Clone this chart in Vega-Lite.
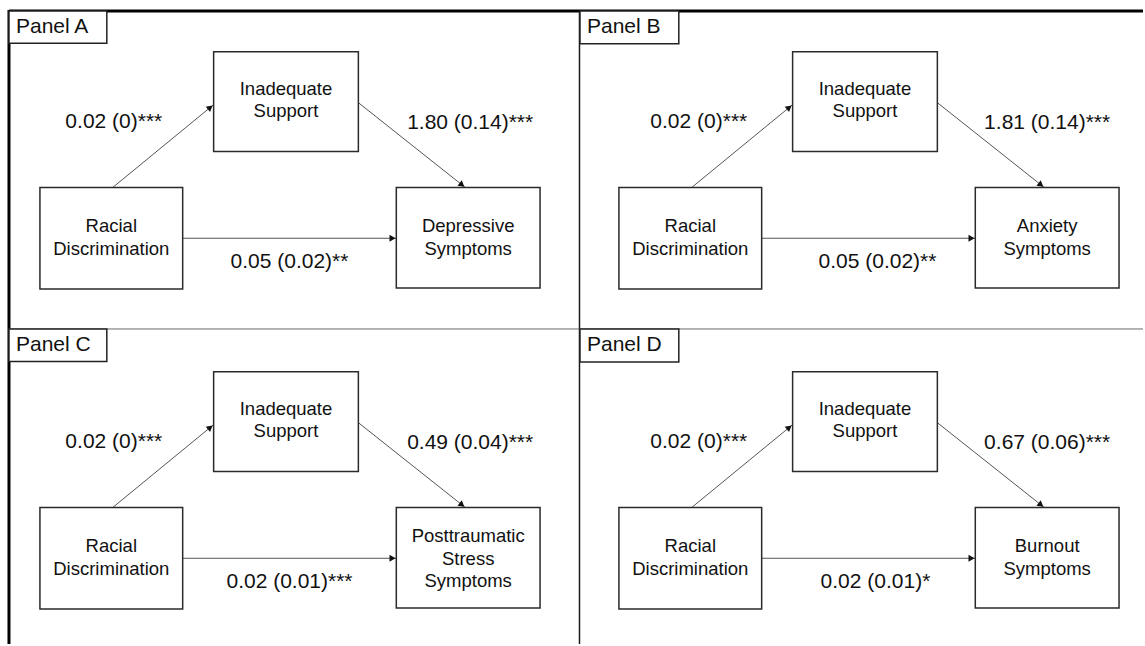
{
  "$schema": "https://vega.github.io/schema/vega-lite/v6.json",
  "width": 1145,
  "height": 646,
  "autosize": {"type": "fit", "contains": "padding"},
  "padding": 0,
  "background": "white",
  "config": {"view": {"stroke": null}, "text": {"font": "Liberation Sans"}},
  "datasets": {
    "frame": [
      {"kind": "outer", "x1": 9, "y1": 11, "x2": 1145, "y2": 11},
      {"kind": "outer", "x1": 9, "y1": 10, "x2": 9, "y2": 646},
      {"kind": "vdiv", "x1": 580.5, "y1": 11, "x2": 580.5, "y2": 646},
      {"kind": "hdiv", "x1": 9, "y1": 330, "x2": 1145, "y2": 330}
    ],
    "panels": [
      {"panel": "Panel A", "x1": 9, "x2": 107, "y1": 11, "y2": 43.5, "tx": 16, "ty": 27.5},
      {"panel": "Panel B", "x1": 581, "x2": 680, "y1": 11, "y2": 44, "tx": 588, "ty": 27.5},
      {"panel": "Panel C", "x1": 9, "x2": 107, "y1": 330, "y2": 362.5, "tx": 16, "ty": 346.5},
      {"panel": "Panel D", "x1": 581, "x2": 680, "y1": 330, "y2": 363, "tx": 588, "ty": 346.5}
    ],
    "nodes": [
      {"panel": "A", "label": "Inadequate\nSupport", "x1": 214, "x2": 359, "y1": 52, "y2": 152, "cx": 286.5, "cy": 89},
      {"panel": "A", "label": "Racial\nDiscrimination", "x1": 40, "x2": 183, "y1": 188, "y2": 290, "cx": 111.5, "cy": 227},
      {"panel": "A", "label": "Depressive\nSymptoms", "x1": 397, "x2": 541, "y1": 188, "y2": 289, "cx": 469, "cy": 227},
      {"panel": "B", "label": "Inadequate\nSupport", "x1": 794, "x2": 939, "y1": 52, "y2": 152, "cx": 866.5, "cy": 89},
      {"panel": "B", "label": "Racial\nDiscrimination", "x1": 620, "x2": 763, "y1": 188, "y2": 290, "cx": 691.5, "cy": 227},
      {"panel": "B", "label": "Anxiety\nSymptoms", "x1": 977, "x2": 1121, "y1": 188, "y2": 289, "cx": 1049, "cy": 227},
      {"panel": "C", "label": "Inadequate\nSupport", "x1": 214, "x2": 359, "y1": 373, "y2": 473, "cx": 286.5, "cy": 410},
      {"panel": "C", "label": "Racial\nDiscrimination", "x1": 40, "x2": 183, "y1": 509, "y2": 611, "cx": 111.5, "cy": 548},
      {"panel": "C", "label": "Posttraumatic\nStress\nSymptoms", "x1": 397, "x2": 541, "y1": 509, "y2": 610, "cx": 469, "cy": 538},
      {"panel": "D", "label": "Inadequate\nSupport", "x1": 794, "x2": 939, "y1": 373, "y2": 473, "cx": 866.5, "cy": 410},
      {"panel": "D", "label": "Racial\nDiscrimination", "x1": 620, "x2": 763, "y1": 509, "y2": 611, "cx": 691.5, "cy": 548},
      {"panel": "D", "label": "Burnout\nSymptoms", "x1": 977, "x2": 1121, "y1": 509, "y2": 610, "cx": 1049, "cy": 548}
    ],
    "edges": [
      {"panel": "A", "path": "a", "x1": 113, "y1": 188, "x2": 214, "y2": 105, "hx": 210.6, "hy": 107.8, "angle": 51},
      {"panel": "A", "path": "b", "x1": 359, "y1": 103, "x2": 466, "y2": 188, "hx": 462.8, "hy": 185.5, "angle": 128},
      {"panel": "A", "path": "c", "x1": 183, "y1": 239, "x2": 397, "y2": 239, "hx": 393.2, "hy": 239, "angle": 90},
      {"panel": "B", "path": "a", "x1": 693, "y1": 188, "x2": 794, "y2": 105, "hx": 790.6, "hy": 107.8, "angle": 51},
      {"panel": "B", "path": "b", "x1": 939, "y1": 103, "x2": 1046, "y2": 188, "hx": 1042.8, "hy": 185.5, "angle": 128},
      {"panel": "B", "path": "c", "x1": 763, "y1": 239, "x2": 977, "y2": 239, "hx": 973.2, "hy": 239, "angle": 90},
      {"panel": "C", "path": "a", "x1": 113, "y1": 509, "x2": 214, "y2": 426, "hx": 210.6, "hy": 428.8, "angle": 51},
      {"panel": "C", "path": "b", "x1": 359, "y1": 424, "x2": 466, "y2": 509, "hx": 462.8, "hy": 506.5, "angle": 128},
      {"panel": "C", "path": "c", "x1": 183, "y1": 560, "x2": 397, "y2": 560, "hx": 393.2, "hy": 560, "angle": 90},
      {"panel": "D", "path": "a", "x1": 693, "y1": 509, "x2": 794, "y2": 426, "hx": 790.6, "hy": 428.8, "angle": 51},
      {"panel": "D", "path": "b", "x1": 939, "y1": 424, "x2": 1046, "y2": 509, "hx": 1042.8, "hy": 506.5, "angle": 128},
      {"panel": "D", "path": "c", "x1": 763, "y1": 560, "x2": 977, "y2": 560, "hx": 973.2, "hy": 560, "angle": 90}
    ],
    "coefs": [
      {"panel": "A", "path": "a", "text": "0.02 (0)***", "cx": 114, "cy": 122},
      {"panel": "A", "path": "b", "text": "1.80 (0.14)***", "cx": 471, "cy": 123},
      {"panel": "A", "path": "c", "text": "0.05 (0.02)**", "cx": 290, "cy": 263},
      {"panel": "B", "path": "a", "text": "0.02 (0)***", "cx": 700, "cy": 122},
      {"panel": "B", "path": "b", "text": "1.81 (0.14)***", "cx": 1049, "cy": 123},
      {"panel": "B", "path": "c", "text": "0.05 (0.02)**", "cx": 879, "cy": 263},
      {"panel": "C", "path": "a", "text": "0.02 (0)***", "cx": 114, "cy": 443},
      {"panel": "C", "path": "b", "text": "0.49 (0.04)***", "cx": 471, "cy": 444},
      {"panel": "C", "path": "c", "text": "0.02 (0.01)***", "cx": 290, "cy": 584},
      {"panel": "D", "path": "a", "text": "0.02 (0)***", "cx": 700, "cy": 443},
      {"panel": "D", "path": "b", "text": "0.67 (0.06)***", "cx": 1049, "cy": 444},
      {"panel": "D", "path": "c", "text": "0.02 (0.01)*", "cx": 877, "cy": 584}
    ]
  },
  "layer": [
    {
      "data": {"name": "frame"},
      "transform": [{"filter": "datum.kind === 'outer'"}],
      "mark": {"type": "rule", "color": "#000000", "strokeWidth": 3},
      "encoding": {
        "x": {"field": "x1", "type": "quantitative", "scale": {"domain": [0, 1145], "nice": false, "zero": false}, "axis": null},
        "x2": {"field": "x2"},
        "y": {"field": "y1", "type": "quantitative", "scale": {"domain": [0, 646], "nice": false, "zero": false, "reverse": true}, "axis": null},
        "y2": {"field": "y2"}
      }
    },
    {
      "data": {"name": "frame"},
      "transform": [{"filter": "datum.kind === 'vdiv'"}],
      "mark": {"type": "rule", "color": "#1a1a1a", "strokeWidth": 1.5},
      "encoding": {
        "x": {"field": "x1", "type": "quantitative", "scale": {"domain": [0, 1145], "nice": false, "zero": false}, "axis": null},
        "x2": {"field": "x2"},
        "y": {"field": "y1", "type": "quantitative", "scale": {"domain": [0, 646], "nice": false, "zero": false, "reverse": true}, "axis": null},
        "y2": {"field": "y2"}
      }
    },
    {
      "data": {"name": "frame"},
      "transform": [{"filter": "datum.kind === 'hdiv'"}],
      "mark": {"type": "rule", "color": "#6a6a6a", "strokeWidth": 1},
      "encoding": {
        "x": {"field": "x1", "type": "quantitative", "scale": {"domain": [0, 1145], "nice": false, "zero": false}, "axis": null},
        "x2": {"field": "x2"},
        "y": {"field": "y1", "type": "quantitative", "scale": {"domain": [0, 646], "nice": false, "zero": false, "reverse": true}, "axis": null},
        "y2": {"field": "y2"}
      }
    },
    {
      "data": {"name": "panels"},
      "mark": {"type": "rect", "fill": "white", "stroke": "#222222", "strokeWidth": 1.5},
      "encoding": {
        "x": {"field": "x1", "type": "quantitative", "scale": {"domain": [0, 1145], "nice": false, "zero": false}, "axis": null},
        "x2": {"field": "x2"},
        "y": {"field": "y1", "type": "quantitative", "scale": {"domain": [0, 646], "nice": false, "zero": false, "reverse": true}, "axis": null},
        "y2": {"field": "y2"}
      }
    },
    {
      "data": {"name": "panels"},
      "mark": {"type": "text", "align": "left", "baseline": "middle", "fontSize": 21, "color": "#111111"},
      "encoding": {
        "x": {"field": "tx", "type": "quantitative", "scale": {"domain": [0, 1145], "nice": false, "zero": false}, "axis": null},
        "y": {"field": "ty", "type": "quantitative", "scale": {"domain": [0, 646], "nice": false, "zero": false, "reverse": true}, "axis": null},
        "text": {"field": "panel"}
      }
    },
    {
      "data": {"name": "edges"},
      "mark": {"type": "rule", "color": "#555555", "strokeWidth": 1},
      "encoding": {
        "x": {"field": "x1", "type": "quantitative", "scale": {"domain": [0, 1145], "nice": false, "zero": false}, "axis": null},
        "x2": {"field": "x2"},
        "y": {"field": "y1", "type": "quantitative", "scale": {"domain": [0, 646], "nice": false, "zero": false, "reverse": true}, "axis": null},
        "y2": {"field": "y2"}
      }
    },
    {
      "data": {"name": "edges"},
      "mark": {"type": "point", "shape": "triangle-up", "filled": true, "opacity": 1, "color": "#111111", "size": 48},
      "encoding": {
        "x": {"field": "hx", "type": "quantitative", "scale": {"domain": [0, 1145], "nice": false, "zero": false}, "axis": null},
        "y": {"field": "hy", "type": "quantitative", "scale": {"domain": [0, 646], "nice": false, "zero": false, "reverse": true}, "axis": null},
        "angle": {"field": "angle", "type": "quantitative", "scale": null}
      }
    },
    {
      "data": {"name": "nodes"},
      "mark": {"type": "rect", "fill": "white", "stroke": "#2a2a2a", "strokeWidth": 1.5},
      "encoding": {
        "x": {"field": "x1", "type": "quantitative", "scale": {"domain": [0, 1145], "nice": false, "zero": false}, "axis": null},
        "x2": {"field": "x2"},
        "y": {"field": "y1", "type": "quantitative", "scale": {"domain": [0, 646], "nice": false, "zero": false, "reverse": true}, "axis": null},
        "y2": {"field": "y2"}
      }
    },
    {
      "data": {"name": "nodes"},
      "mark": {"type": "text", "align": "center", "baseline": "middle", "fontSize": 18.5, "lineHeight": 22.5, "lineBreak": "\n", "color": "#111111"},
      "encoding": {
        "x": {"field": "cx", "type": "quantitative", "scale": {"domain": [0, 1145], "nice": false, "zero": false}, "axis": null},
        "y": {"field": "cy", "type": "quantitative", "scale": {"domain": [0, 646], "nice": false, "zero": false, "reverse": true}, "axis": null},
        "text": {"field": "label"}
      }
    },
    {
      "data": {"name": "coefs"},
      "mark": {"type": "text", "align": "center", "baseline": "middle", "fontSize": 21, "color": "#111111"},
      "encoding": {
        "x": {"field": "cx", "type": "quantitative", "scale": {"domain": [0, 1145], "nice": false, "zero": false}, "axis": null},
        "y": {"field": "cy", "type": "quantitative", "scale": {"domain": [0, 646], "nice": false, "zero": false, "reverse": true}, "axis": null},
        "text": {"field": "text"}
      }
    }
  ]
}
